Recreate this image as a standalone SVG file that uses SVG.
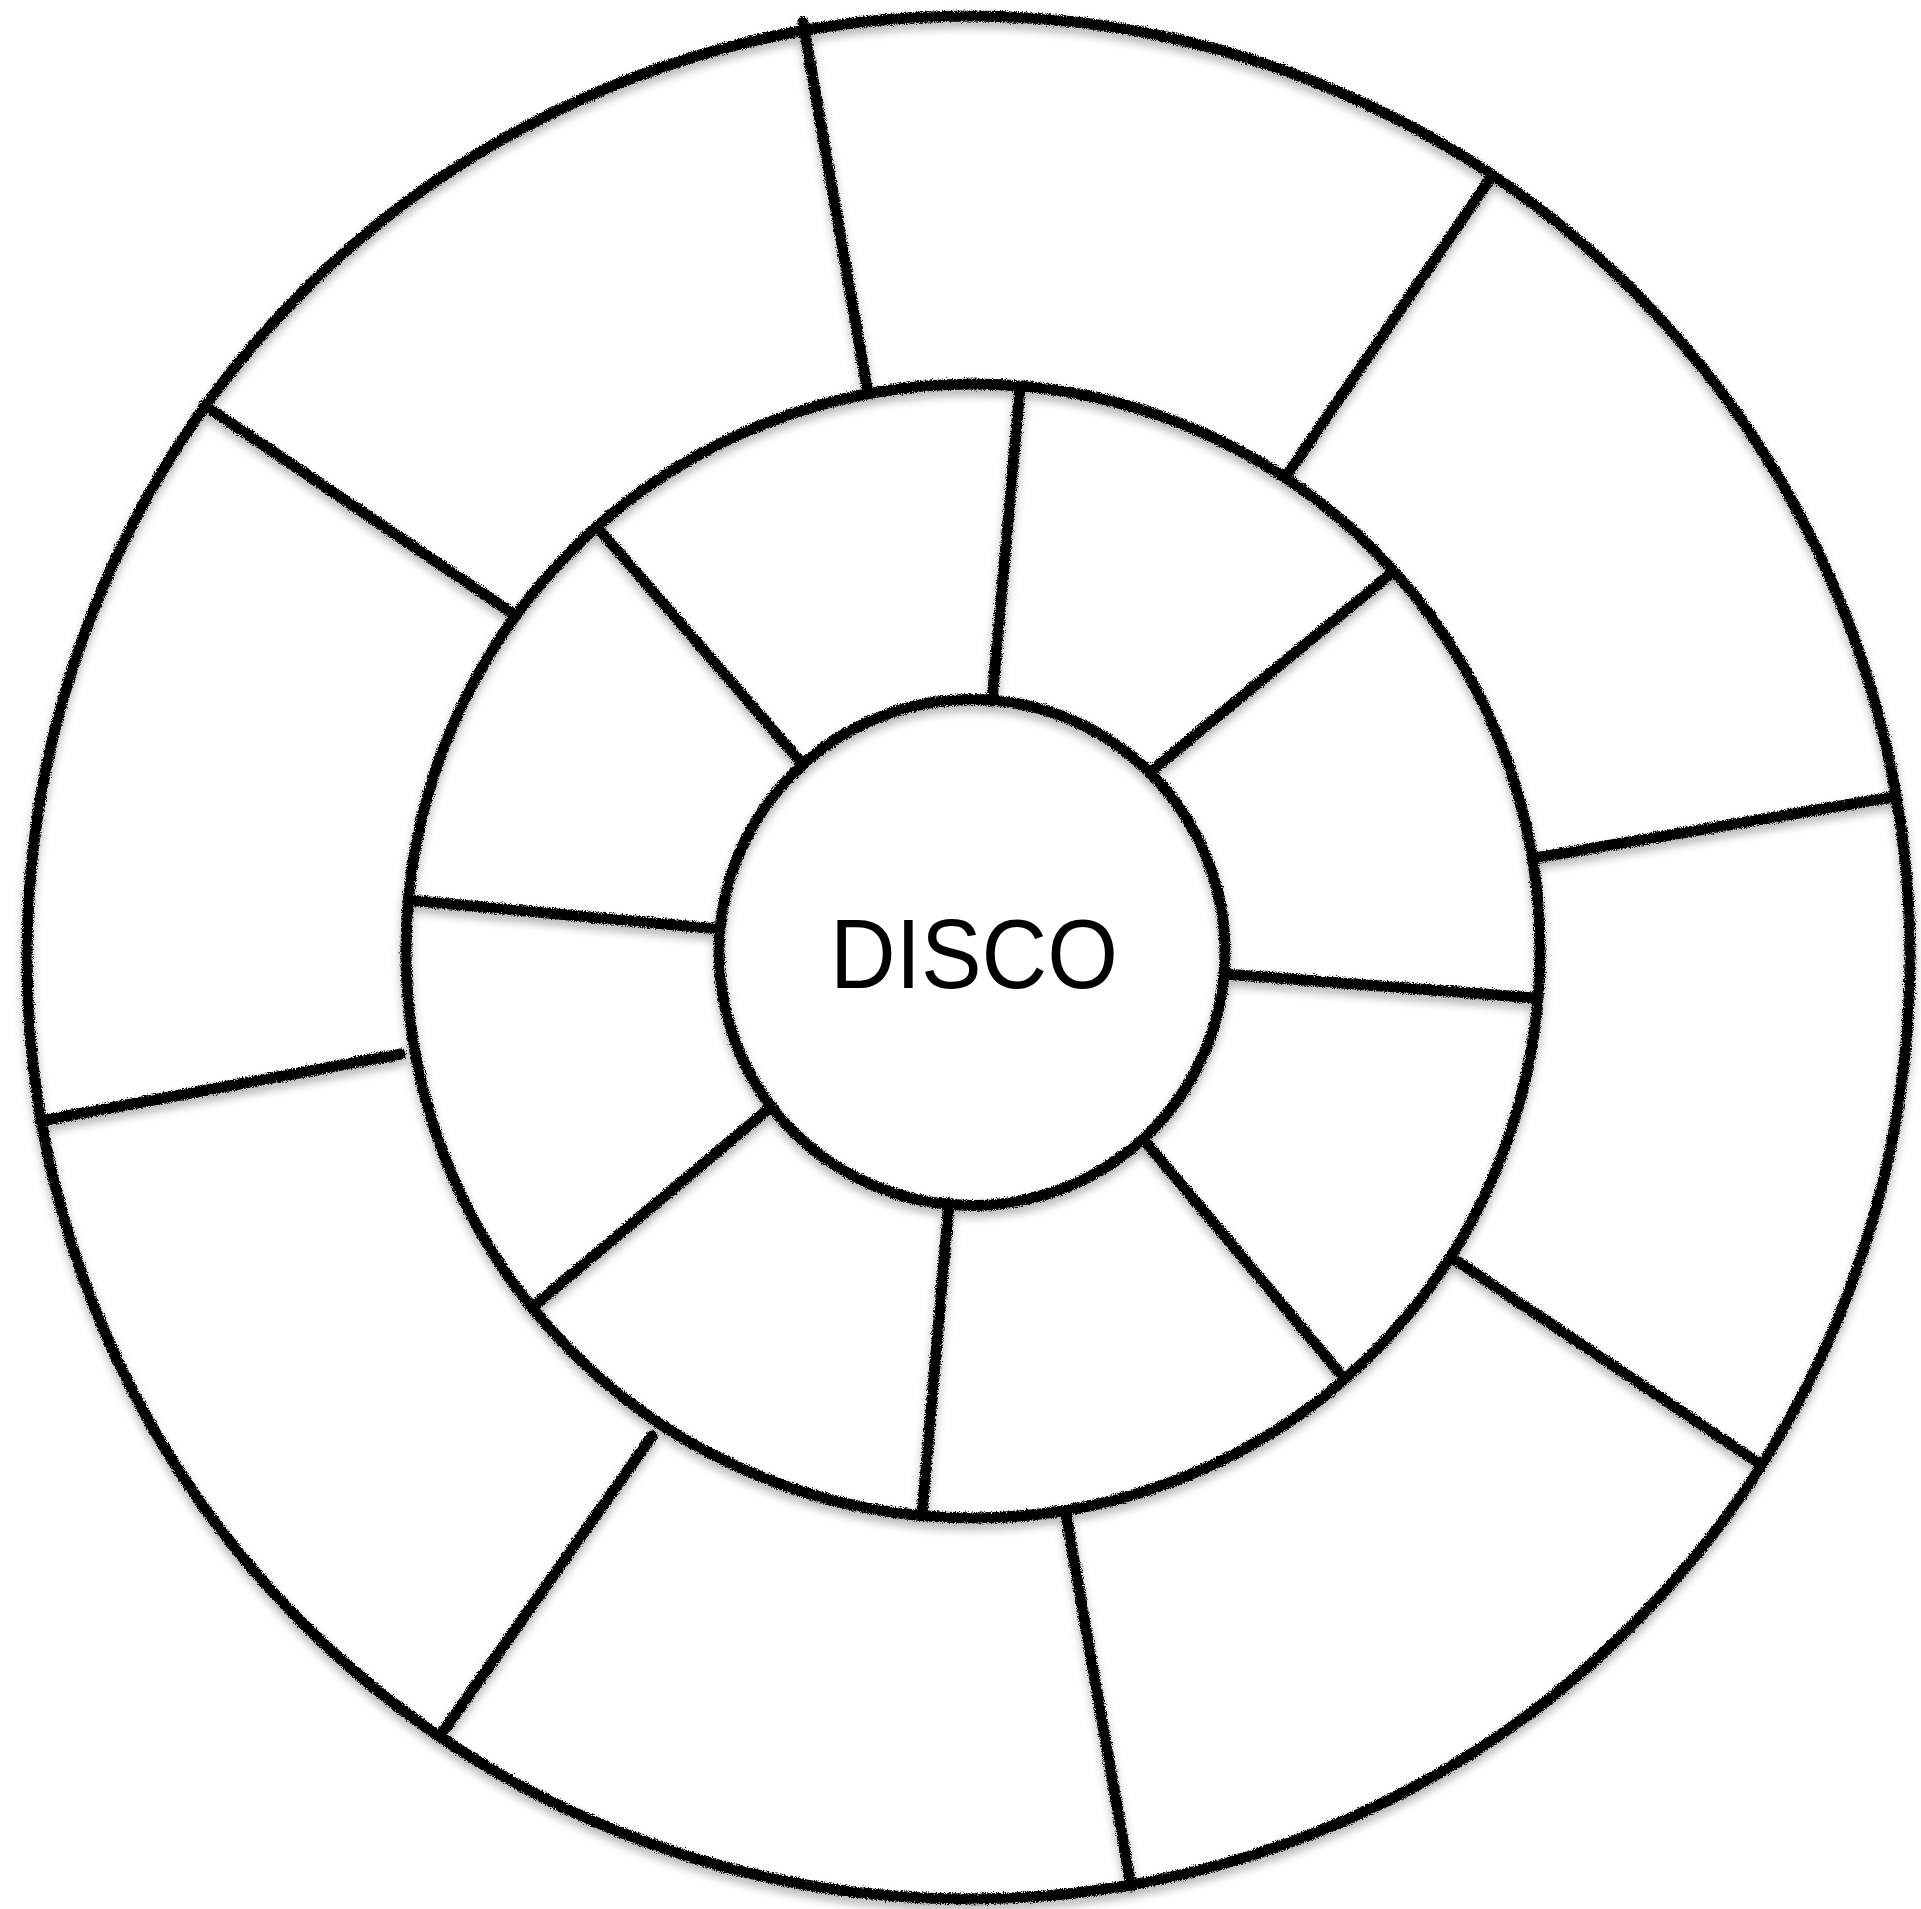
<svg xmlns="http://www.w3.org/2000/svg" width="1921" height="1909" viewBox="0 0 1921 1909">
<style>
.ring{fill:none;stroke:#000;stroke-width:11}
.spoke{stroke:#000;stroke-width:11;stroke-linecap:round}
.label{font-family:"Liberation Sans",Arial,sans-serif;font-size:98px;fill:#000}
</style>
<defs>
<filter id="chalk" x="0" y="0" width="1921" height="1909" filterUnits="userSpaceOnUse">
<feTurbulence type="fractalNoise" baseFrequency="0.9" numOctaves="2" seed="4" result="n"/>
<feDisplacementMap in="SourceGraphic" in2="n" scale="6" xChannelSelector="R" yChannelSelector="G" result="d"/>
<feGaussianBlur in="SourceAlpha" stdDeviation="5" result="bl"/>
<feOffset in="bl" dx="0" dy="6" result="b"/>
<feFlood flood-color="#000" flood-opacity="0.3"/>
<feComposite in2="b" operator="in" result="sh"/>
<feMerge><feMergeNode in="sh"/><feMergeNode in="d"/></feMerge>
</filter>
</defs>
<rect width="1921" height="1909" fill="#fff"/>
<g filter="url(#chalk)">
<g id="outer-ring"><circle class="ring" cx="968.5" cy="957.5" r="941.5"/></g>
<g id="middle-ring"><circle class="ring" cx="973" cy="951" r="567"/></g>
<g id="connectors">
<line class="spoke" x1="803" y1="22" x2="867" y2="388"/>
<line class="spoke" x1="1492" y1="176" x2="1289" y2="472"/>
<line class="spoke" x1="1893" y1="797" x2="1535" y2="858"/>
<line class="spoke" x1="1760" y1="1464" x2="1454" y2="1259"/>
<line class="spoke" x1="1131" y1="1886" x2="1066" y2="1515"/>
<line class="spoke" x1="442" y1="1733" x2="652" y2="1436"/>
<line class="spoke" x1="40" y1="1121" x2="401" y2="1054"/>
<line class="spoke" x1="204" y1="405" x2="512" y2="613"/>
<line class="spoke" x1="1020" y1="388" x2="992" y2="701"/>
<line class="spoke" x1="1388" y1="576" x2="1155" y2="768"/>
<line class="spoke" x1="1535" y1="998" x2="1225" y2="974"/>
<line class="spoke" x1="1339" y1="1372" x2="1143" y2="1139"/>
<line class="spoke" x1="949" y1="1203" x2="922" y2="1515"/>
<line class="spoke" x1="535" y1="1305" x2="772" y2="1106"/>
<line class="spoke" x1="408" y1="900" x2="719" y2="929"/>
<line class="spoke" x1="597" y1="527" x2="799" y2="760"/>
</g>
<g id="disco"><circle class="ring" cx="972" cy="952.5" r="253" fill="#fff"/></g>
</g>
<text class="label" x="974" y="988" text-anchor="middle" textLength="288" lengthAdjust="spacingAndGlyphs">DISCO</text>
</svg>
